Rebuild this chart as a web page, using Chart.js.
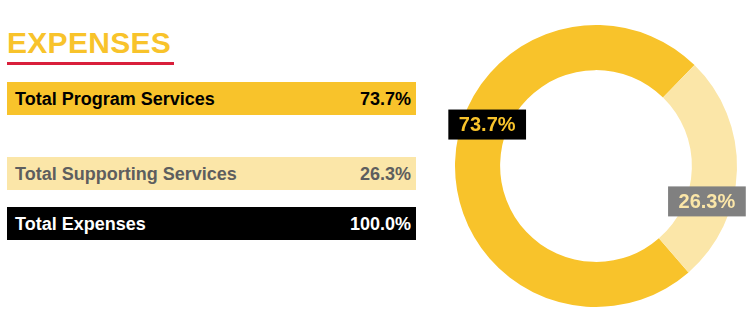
<!DOCTYPE html>
<html>
<head>
<meta charset="utf-8">
<script src="https://cdn.jsdelivr.net/npm/chart.js@4"></script>
<style>
  body { margin: 0; width: 750px; height: 330px; background: #fff; position: relative; overflow: hidden;
         font-family: "Liberation Sans", Arial, Helvetica, sans-serif; }
  #title { position: absolute; left: 7px; top: 25px; font-size: 30px; font-weight: bold; color: #F8C32B;
           letter-spacing: 0.3px; line-height: 36px; }
  #rule { position: absolute; left: 7px; top: 62px; width: 167px; height: 3px; background: #D91F3B; }
  .row { position: absolute; left: 7px; width: 409px; height: 33px; font-size: 18px; font-weight: bold;
         line-height: 35px; box-sizing: border-box; padding: 0 5px 0 8px; overflow: hidden; }
  .row span.v { float: right; }
  #chartbox { position: absolute; left: 446px; top: 16px; width: 300px; height: 300px; }
</style>
</head>
<body>
<div id="title">EXPENSES</div>
<div id="rule"></div>
<div id="rows"></div>
<div id="chartbox"><canvas id="myChart"></canvas></div>
<script>
// expense breakdown, percent of total
var categories = ["Total Program Services", "Total Supporting Services"];
var values = [73.7, 26.3];
var totalLabel = "Total Expenses";
var totalValue = 100.0;

var yellow = "#F8C32B";
var paleYellow = "#FBE6A8";

// table rows on the left
var rowStyles = [
    {top: 82, bg: yellow, color: "#000"},
    {top: 157, bg: paleYellow, color: "#5E5E5E"},
    {top: 207, bg: "#000", color: "#fff"}
];
var rowNames = categories.concat([totalLabel]);
var rowValues = values.concat([totalValue]);
var rows = document.getElementById("rows");
for (var i = 0; i < rowNames.length; i++) {
    var d = document.createElement("div");
    d.className = "row";
    d.style.top = rowStyles[i].top + "px";
    d.style.background = rowStyles[i].bg;
    d.style.color = rowStyles[i].color;
    d.innerHTML = rowNames[i] + '<span class="v">' + rowValues[i].toFixed(1) + '%</span>';
    rows.appendChild(d);
}

// boxed percentage labels on the ring, nudged clockwise from the arc middle
var labelShift = [0.335, 0.28];
var boxLabels = {
    id: "boxLabels",
    afterDatasetsDraw: function(chart) {
        var ctx = chart.ctx;
        var meta = chart.getDatasetMeta(0);
        var boxBg = ["#000", "#808080"];
        var boxFg = [yellow, paleYellow];
        ctx.save();
        ctx.font = "bold 20px 'Liberation Sans', Arial, sans-serif";
        ctx.textAlign = "center";
        ctx.textBaseline = "middle";
        meta.data.forEach(function(arc, i) {
            var p = arc.getProps(["x", "y", "startAngle", "endAngle", "innerRadius", "outerRadius"], true);
            var a = (p.startAngle + p.endAngle) / 2 + labelShift[i];
            var r = (p.innerRadius + p.outerRadius) / 2 - 2;
            var cx = p.x + Math.cos(a) * r;
            var cy = p.y + Math.sin(a) * r;
            var txt = values[i].toFixed(1) + "%";
            var w = ctx.measureText(txt).width + 21;
            var h = 30;
            ctx.fillStyle = boxBg[i];
            ctx.fillRect(cx - w / 2, cy - h / 2, w, h);
            ctx.fillStyle = boxFg[i];
            ctx.fillText(txt, cx, cy + 1);
        });
        ctx.restore();
    }
};

var ctx = document.getElementById("myChart").getContext("2d");
var chart = new Chart(ctx, {
    type: "doughnut",
    data: {
        labels: categories,
        datasets: [{
            data: values,
            backgroundColor: [yellow, paleYellow],
            borderWidth: 0
        }]
    },
    options: {
        responsive: true,
        maintainAspectRatio: false,
        animation: false,
        rotation: 139,
        cutout: "68%",
        layout: { padding: 9 },
        plugins: {
            legend: { display: false },
            tooltip: { enabled: false }
        }
    },
    plugins: [boxLabels]
});
</script>
</body>
</html>
